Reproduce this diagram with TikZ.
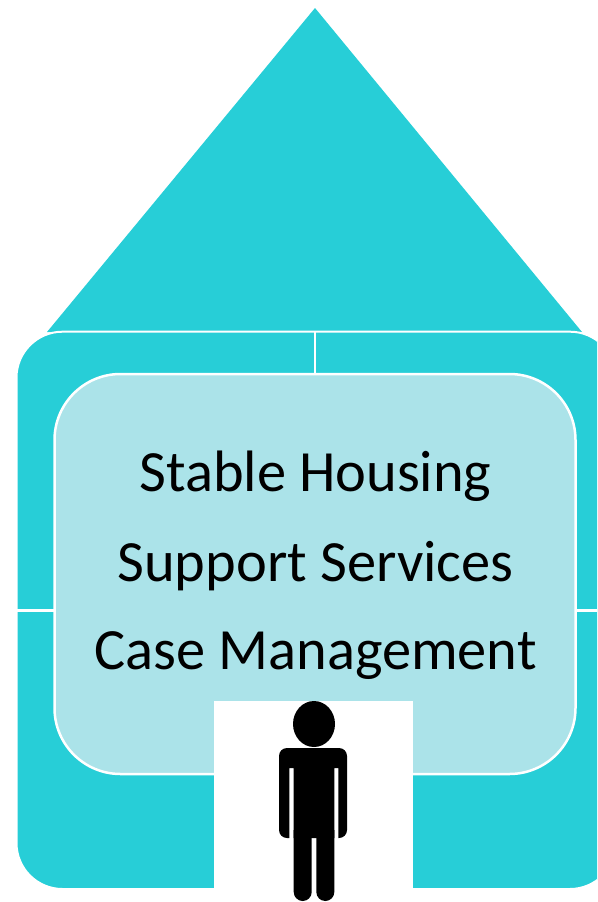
\documentclass[tikz,border=0pt]{standalone}
\usepackage{fontspec}
\setmainfont{Carlito}
\usetikzlibrary{positioning}
\definecolor{roofcyan}{HTML}{27CED7}
\definecolor{palecyan}{HTML}{ABE3E9}
\tikzset{
  wall/.style={fill=roofcyan, draw=white, line width=2pt},
  room/.style={fill=palecyan, draw=white, line width=2.5pt},
  seam/.style={draw=white, line width=2.4pt},
  caption/.style={font=\fontsize{58.4}{66}\selectfont, text=black, inner sep=0pt}
}
\begin{document}
\begin{tikzpicture}[x=1pt,y=-1pt]

\useasboundingbox (0,0) rectangle (597,902);
\clip (0,0) rectangle (597,902);

% roof
\fill[roofcyan] (315,8) -- (582,332) -- (47,332) -- cycle;

% walls
\draw[wall, rounded corners=46pt] (16.5,331.7) rectangle (616,889);
\draw[seam] (315,332) -- (315,374);
\draw[seam] (17,610.5) -- (54,610.5);
\draw[seam] (576,610.5) -- (597,610.5);

% inner room
\draw[room, rounded corners=66pt] (54.5,374) rectangle (575.5,774);

\node[caption] (housing) at (315.5,476) {Stable Housing};
\node[caption, below=90pt of housing.center, anchor=center] (support) {Support Services};
\node[caption, below=90pt of support.center, anchor=center] (casemgmt) {Case Management};

% doorway
\fill[white] (214,701) rectangle (413,902);

% person
\fill[black] (314,724) ellipse [x radius=21, y radius=23];
\fill[black] (289.3,838) [rounded corners=8pt] -- (279,838) -- (279,748) -- (347,748) -- (347,838) [sharp corners] -- (338.3,838) -- (338.3,768) -- (334.3,768) -- (334.3,838) -- (293.7,838) -- (293.7,768) -- (289.3,768) -- cycle;
\foreach \x in {293.7,316.3} {
  \fill[black] (\x,830) -- (\x,892) arc [start angle=180, end angle=0, radius=9] -- ++(0,-62) -- cycle;
}
\end{tikzpicture}
\end{document}
